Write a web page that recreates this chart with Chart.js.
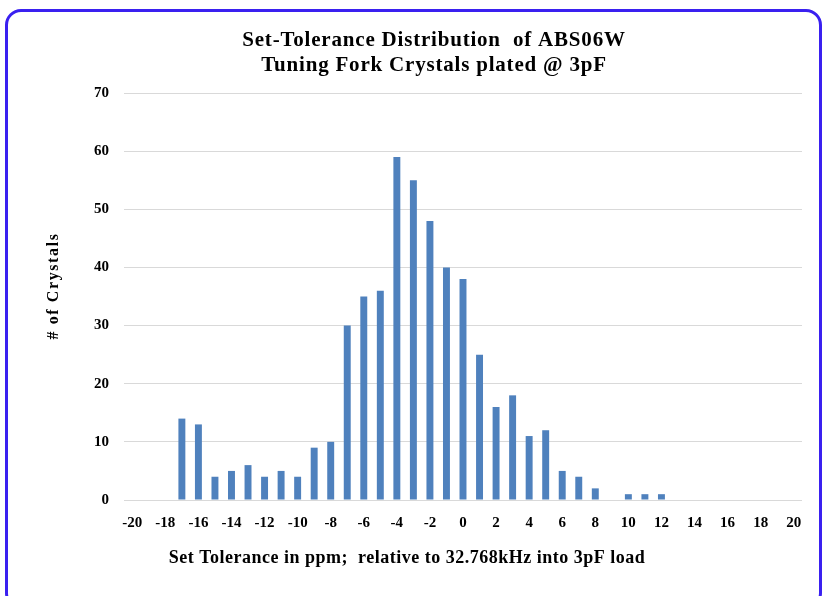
<!DOCTYPE html>
<html>
<head>
<meta charset="utf-8">
<script src="https://cdn.jsdelivr.net/npm/chart.js@4/dist/chart.umd.min.js"></script>
<style>
  html, body { margin: 0; padding: 0; background: #fff; overflow: hidden; }
  #wrap { position: relative; width: 822px; height: 596px; }
  #frame {
    position: absolute; left: 5px; top: 9px; width: 817px; height: 600px;
    border: 3px solid #3a20f0; border-radius: 16px; box-sizing: border-box;
  }
  canvas { position: absolute; left: 0; top: 0; }
</style>
</head>
<body>
<div id="wrap">
  <div id="frame"></div>
  <canvas id="chart1" width="822" height="596"></canvas>
</div>
<script>
const titleLines = ["Set-Tolerance Distribution  of ABS06W", "Tuning Fork Crystals plated @ 3pF"];
const xCaption = "Set Tolerance in ppm;  relative to 32.768kHz into 3pF load";
const yCaption = "# of Crystals";

// ppm offset buckets
const tolerance = [-20, -19, -18, -17, -16, -15, -14, -13, -12, -11, -10, -9, -8, -7, -6, -5, -4, -3, -2, -1,
  0, 1, 2, 3, 4, 5, 6, 7, 8, 9, 10, 11, 12, 13, 14, 15, 16, 17, 18, 19, 20];
const crystals = [0, 0, 0, 14, 13, 4, 5, 6, 4, 5, 4, 9, 10, 30, 35, 36, 59, 55, 48, 40,
  38, 25, 16, 18, 11, 12, 5, 4, 2, 0, 1, 1, 1, 0, 0, 0, 0, 0, 0, 0, 0];
const xTickLabels = [-20, -18, -16, -14, -12, -10, -8, -6, -4, -2, 0, 2, 4, 6, 8, 10, 12, 14, 16, 18, 20];
const yTicks = [0, 10, 20, 30, 40, 50, 60, 70];

const serif = '"Liberation Serif", "Times New Roman", serif';

// titles are not centred on the plot in the original, so draw them here
const captions = {
  id: "captions",
  afterDraw(chart) {
    const ctx = chart.ctx;
    ctx.save();
    ctx.fillStyle = "#000";
    ctx.textAlign = "center";
    ctx.textBaseline = "middle";
    ctx.font = "bold 21px " + serif;
    ctx.letterSpacing = "0.8px";
    titleLines.forEach((t, i) => ctx.fillText(t, 434, 41 + i * 25));
    ctx.font = "bold 18px " + serif;
    ctx.letterSpacing = "0.5px";
    ctx.fillText(xCaption, 407, 558);
    ctx.font = "bold 16px " + serif;
    ctx.letterSpacing = "1.6px";
    ctx.translate(54, 286);
    ctx.rotate(-Math.PI / 2);
    ctx.fillText(yCaption, 0, 0);
    ctx.restore();
  },
};

var ctx = document.getElementById("chart1").getContext("2d");
var myChart = new Chart(ctx, {
  type: "bar",
  data: {
    labels: tolerance,
    datasets: [
      {
        data: crystals,
        backgroundColor: "#4f81bd",
        barPercentage: 0.42,
        categoryPercentage: 1.0,
      },
    ],
  },
  options: {
    responsive: false,
    animation: false,
    layout: {
      padding: { left: 79, right: 20, top: 93, bottom: 50 },
    },
    plugins: {
      legend: { display: false },
      tooltip: { enabled: false },
      title: { display: false },
    },
    scales: {
      x: {
        grid: { display: false, drawTicks: false },
        border: { display: false },
        ticks: {
          color: "#000",
          padding: 14,
          autoSkip: false,
          maxRotation: 0,
          font: { family: serif, size: 15, weight: "bold" },
          callback: function (value) {
            const v = tolerance[value];
            return xTickLabels.includes(v) ? String(v) : "";
          },
        },
      },
      y: {
        min: yTicks[0],
        max: yTicks[yTicks.length - 1],
        grid: { color: "#d9d9d9", drawTicks: false },
        border: { display: false },
        ticks: {
          stepSize: 10,
          color: "#000",
          padding: 15,
          font: { family: serif, size: 15, weight: "bold" },
        },
      },
    },
  },
  plugins: [captions],
});
</script>
</body>
</html>
